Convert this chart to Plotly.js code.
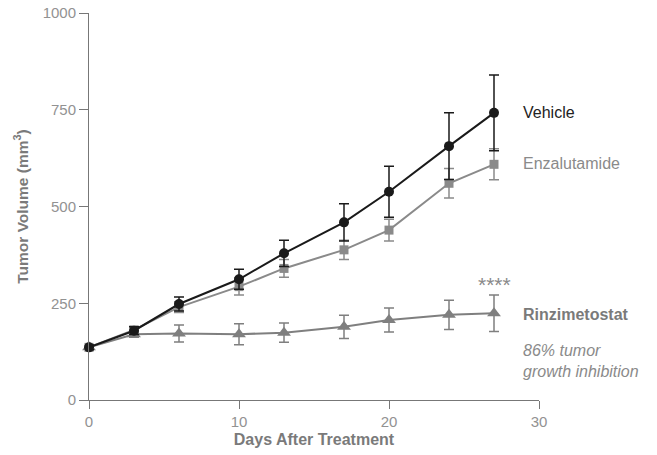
<!DOCTYPE html>
<html><head><meta charset="utf-8">
<script src="https://cdn.plot.ly/plotly-3.0.1.min.js"></script>
<style>html,body{margin:0;padding:0;background:#fff}</style>
</head><body><div id="chart" style="width:657px;height:455px"></div>
<script>
const days = [0, 3, 6, 10, 13, 17, 20, 24, 27];
const vehicle = [136, 179, 248, 312, 379, 459, 538, 656, 742];
const vehicleErr = [6, 10, 18, 26, 34, 48, 66, 86, 98];
const enza = [136, 181, 240, 293, 340, 388, 439, 560, 609];
const enzaErr = [6, 9, 14, 22, 23, 25, 28, 38, 40];
const rinz = [136, 170, 172, 170, 174, 189, 207, 220, 224];
const rinzErr = [6, 8, 22, 27, 25, 30, 31, 38, 47];
const xTicks = [0, 10, 20, 30];
const yTicks = [0, 250, 500, 750, 1000];

const font = "Liberation Sans, Arial, sans-serif";
function series(name, y, err, color, symbol, size) {
  return {
    x: days, y: y, name: name, type: 'scatter', mode: 'lines+markers',
    cliponaxis: false,
    line: {color: color, width: 2},
    marker: {color: color, symbol: symbol, size: size},
    error_y: {type: 'data', array: err, visible: true, color: color, thickness: 1.5, width: 5}
  };
}
const data = [
  series('Rinzimetostat', rinz, rinzErr, '#7f7f7f', 'triangle-up', 12),
  series('Enzalutamide', enza, enzaErr, '#8a8a8a', 'square', 9),
  series('Vehicle', vehicle, vehicleErr, '#1a1a1a', 'circle', 10)
];
const layout = {
  width: 657, height: 455,
  margin: {l: 89, r: 118, t: 13, b: 55},
  showlegend: false,
  paper_bgcolor: '#fff', plot_bgcolor: '#fff',
  font: {family: font, color: '#8a8a8a', size: 15},
  xaxis: {
    range: [0, 30], tickvals: xTicks, ticks: 'outside', ticklen: 8, tickcolor: '#777',
    showline: true, linecolor: '#777', linewidth: 1, showgrid: false, zeroline: false,
    tickfont: {size: 15, color: '#929292'},
    title: {text: 'Days After Treatment', font: {size: 16, color: '#7a7a7a', weight: 'bold'}, standoff: 4}
  },
  yaxis: {
    range: [0, 1000], tickvals: yTicks, ticks: 'outside', ticklen: 9, tickcolor: '#777',
    showline: true, linecolor: '#777', linewidth: 1, showgrid: false, zeroline: false,
    tickfont: {size: 15, color: '#929292'},
    title: {text: 'Tumor Volume (mm<sup>3</sup>)', font: {size: 15.5, color: '#7a7a7a', weight: 'bold'}, standoff: 10}
  },
  annotations: [
    {x: 28.8, y: 744, xref: 'x', yref: 'y', text: 'Vehicle', showarrow: false, xanchor: 'left', font: {size: 16, color: '#222'}},
    {x: 28.8, y: 612, xref: 'x', yref: 'y', text: 'Enzalutamide', showarrow: false, xanchor: 'left', font: {size: 16, color: '#8a8a8a'}},
    {x: 27, y: 298, xref: 'x', yref: 'y', text: '****', showarrow: false, xanchor: 'center', font: {size: 21, color: '#8a8a8a'}},
    {x: 28.8, y: 220, xref: 'x', yref: 'y', text: '<b>Rinzimetostat</b>', showarrow: false, xanchor: 'left', font: {size: 16, color: '#7a7a7a'}},
    {x: 28.8, y: 100, xref: 'x', yref: 'y', text: '<i>86% tumor<br>growth inhibition</i>', showarrow: false, xanchor: 'left', align: 'left', font: {size: 16, color: '#8a8a8a'}}
  ]
};
Plotly.newPlot('chart', data, layout, {displayModeBar: false, staticPlot: true});
</script></body></html>
